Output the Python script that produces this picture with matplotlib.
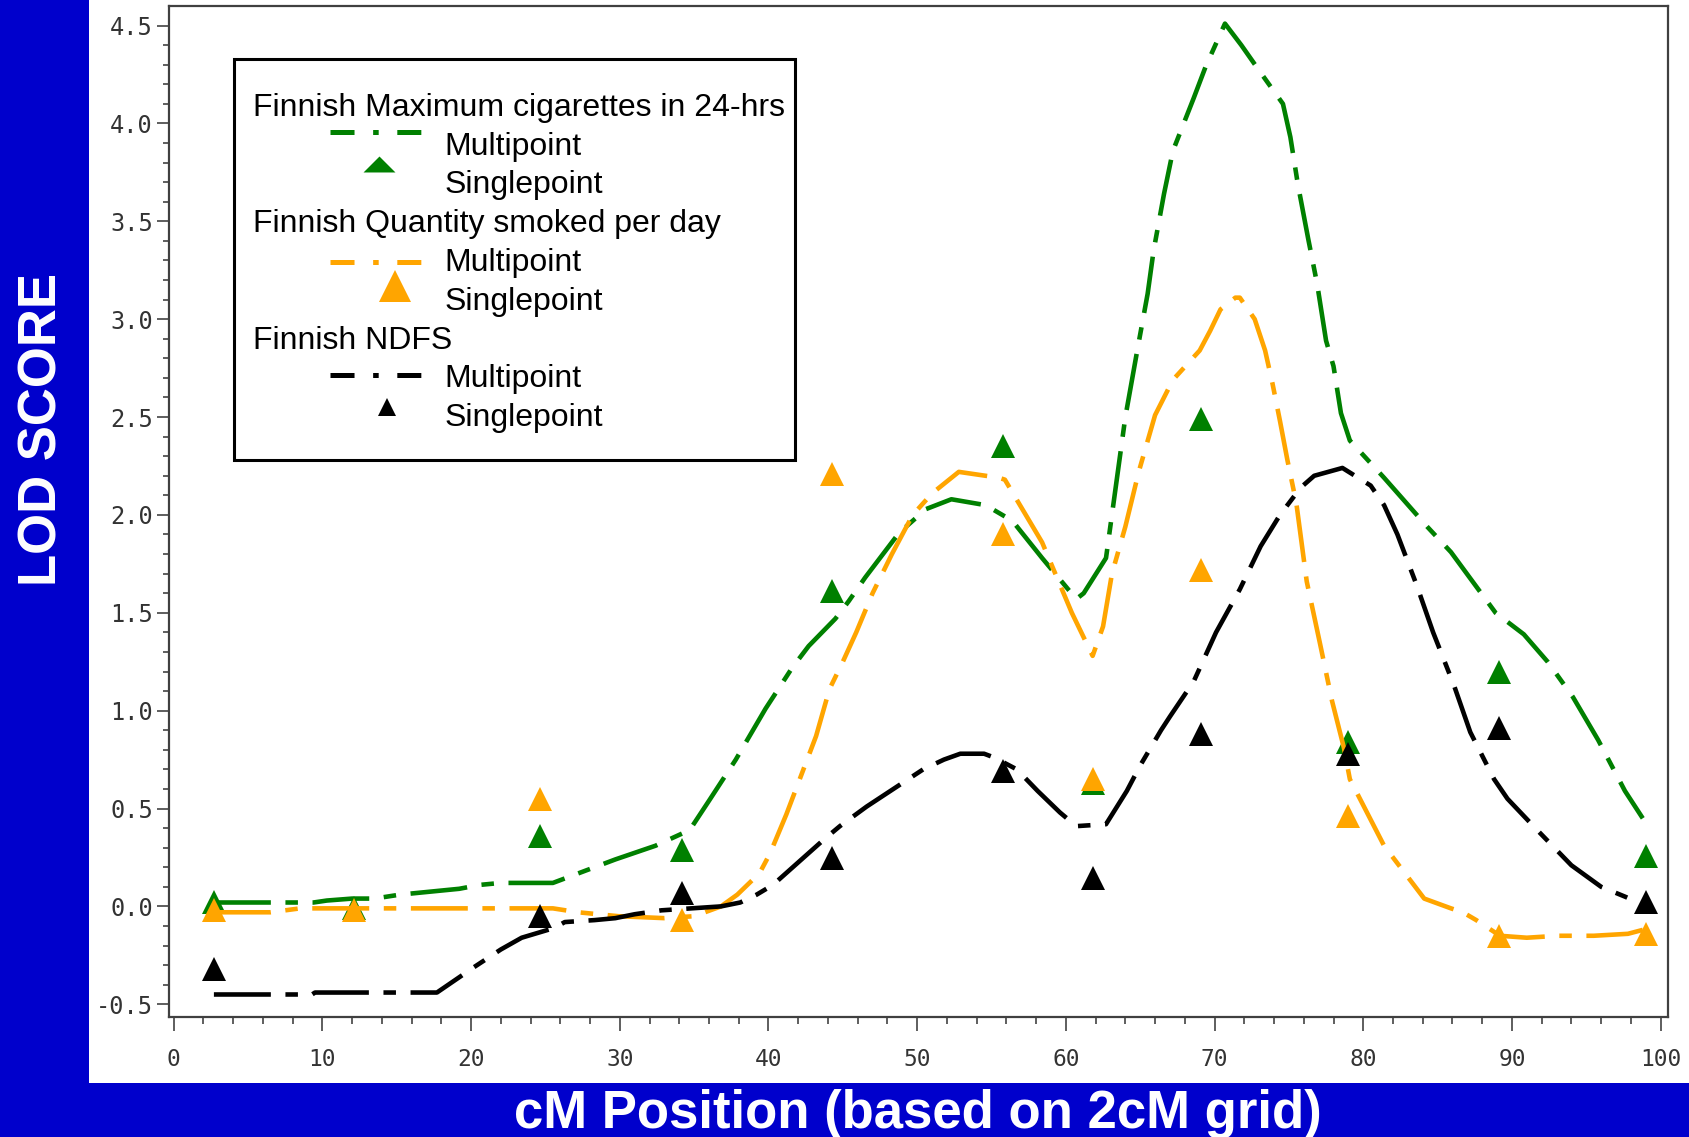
import numpy as np
import matplotlib
matplotlib.use("Agg")
import matplotlib.pyplot as plt
from matplotlib.lines import Line2D
from matplotlib.patches import Rectangle
from matplotlib import font_manager

plt.rcParams['lines.scale_dashes'] = False
plt.rcParams['axes.unicode_minus'] = False

# ---------------- data ----------------
single_x = [2.7, 12.1, 24.6, 34.2, 44.3, 55.8, 61.8, 69.1, 79.0, 89.1, 99.0]
max_cig_single = [0.02, -0.01, 0.36, 0.29, 1.61, 2.35, 0.63, 2.49, 0.84, 1.20, 0.26]
qty_single = [-0.02, -0.02, 0.55, -0.07, 2.21, 1.90, 0.65, 1.72, 0.46, -0.15, -0.14]
ndfs_single = [-0.32, np.nan, -0.05, 0.07, 0.245, 0.69, 0.145, 0.88, 0.78, 0.91, 0.02]

max_cig_multi_x = [2.7, 9.4, 10.3, 12.0, 13.5, 15.2, 19.2, 20.6, 22.0, 25.5, 29.7, 32.4,
                   34.7, 36.0, 37.8, 39.8, 41.6, 42.7, 44.5, 45.4, 46.5, 48.8, 50.6, 52.3,
                   54.6, 56.4, 58.4, 60.7, 61.2, 62.7, 64.0, 64.8, 65.5, 65.9, 66.6, 67.2,
                   68.6, 69.4, 70.7, 71.8, 73.0, 74.6, 75.1, 75.6, 76.3, 76.9, 77.5, 78.0,
                   78.5, 79.1, 81.4, 84.3, 85.9, 88.9, 90.8, 92.4, 94.1, 95.8, 97.6, 98.8]
max_cig_multi_y = [0.02, 0.02, 0.03, 0.04, 0.04, 0.06, 0.09, 0.11, 0.12, 0.12, 0.24, 0.31,
                   0.39, 0.54, 0.75, 1.01, 1.22, 1.33, 1.47, 1.56, 1.68, 1.91, 2.03, 2.08,
                   2.05, 1.97, 1.78, 1.57, 1.60, 1.78, 2.50, 2.84, 3.13, 3.35, 3.64, 3.86,
                   4.13, 4.29, 4.51, 4.40, 4.27, 4.10, 3.93, 3.69, 3.41, 3.18, 2.89, 2.76,
                   2.52, 2.38, 2.19, 1.94, 1.81, 1.50, 1.39, 1.25, 1.07, 0.85, 0.59, 0.45]

qty_multi_x = [2.7, 6.5, 8.5, 25.5, 27.2, 29.9, 33.0, 35.0, 36.8, 37.9, 39.4, 40.1,
               41.2, 42.1, 43.2, 44.1, 45.0, 45.9, 47.0, 48.3, 49.7, 51.0, 52.8, 55.5,
               55.9, 56.6, 58.4, 60.4, 61.8, 62.5, 63.1, 64.0, 64.9, 66.0, 67.2, 69.0,
               69.7, 70.4, 71.4, 71.7, 72.7, 73.4, 73.9, 74.4, 74.9, 75.5, 76.2, 77.1,
               77.9, 78.7, 79.1, 81.4, 82.7, 84.1, 85.9, 86.7, 87.6, 89.2, 91.0, 93.1,
               95.5, 97.8, 98.8]
qty_multi_y = [-0.03, -0.03, -0.01, -0.01, -0.03, -0.05, -0.06, -0.05, 0.0, 0.06, 0.17, 0.27,
               0.47, 0.65, 0.87, 1.11, 1.25, 1.40, 1.60, 1.80, 2.00, 2.11, 2.22, 2.19,
               2.18, 2.09, 1.86, 1.50, 1.28, 1.43, 1.70, 1.94, 2.22, 2.51, 2.69, 2.84,
               2.94, 3.05, 3.11, 3.11, 3.00, 2.84, 2.67, 2.48, 2.28, 2.06, 1.66, 1.34,
               1.05, 0.81, 0.65, 0.31, 0.18, 0.04, -0.01, -0.03, -0.07, -0.15, -0.16, -0.15,
               -0.15, -0.14, -0.12]

ndfs_multi_x = [2.7, 9.3, 9.5, 17.7, 20.2, 22.0, 23.4, 25.6, 26.3, 28.3, 29.7, 31.0,
                32.8, 36.8, 38.1, 39.2, 40.3, 43.7, 44.8, 46.6, 48.4, 50.4, 51.8, 52.9,
                54.5, 55.2, 56.7, 58.1, 59.6, 60.7, 62.7, 64.1, 65.0, 66.4, 67.0, 68.6,
                70.1, 71.7, 73.1, 74.4, 75.8, 76.7, 78.6, 80.5, 81.4, 82.3, 83.6, 84.7,
                86.1, 87.2, 88.8, 89.7, 91.7, 94.0, 96.0, 97.6, 98.8]
ndfs_multi_y = [-0.45, -0.45, -0.44, -0.44, -0.31, -0.22, -0.16, -0.11, -0.08, -0.07, -0.06, -0.04,
                -0.02, 0.0, 0.02, 0.06, 0.11, 0.34, 0.41, 0.51, 0.60, 0.70, 0.75, 0.78,
                0.78, 0.76, 0.70, 0.59, 0.48, 0.41, 0.42, 0.59, 0.72, 0.90, 0.97, 1.15,
                1.40, 1.62, 1.84, 2.00, 2.14, 2.20, 2.24, 2.15, 2.05, 1.90, 1.64, 1.40,
                1.13, 0.89, 0.65, 0.55, 0.39, 0.21, 0.10, 0.05, 0.01]

x_ticks = [0, 10, 20, 30, 40, 50, 60, 70, 80, 90, 100]
x_tick_labels = ['0', '10', '20', '30', '40', '50', '60', '70', '80', '90', '100']
y_ticks = [-0.5, 0.0, 0.5, 1.0, 1.5, 2.0, 2.5, 3.0, 3.5, 4.0, 4.5]
y_tick_labels = ['-0.5', '0.0', '0.5', '1.0', '1.5', '2.0', '2.5', '3.0', '3.5', '4.0', '4.5']

legend_groups = ['Finnish Maximum cigarettes in 24-hrs',
                 'Finnish Quantity smoked per day',
                 'Finnish NDFS']
legend_items = ['Multipoint', 'Singlepoint']
x_title = 'cM Position (based on 2cM grid)'
y_title = 'LOD SCORE'

# ---------------- style ----------------
BLUE = '#0000CC'
GREEN = '#008000'
ORANGE = '#FFA500'
BLACK = '#000000'

names = {f.name for f in font_manager.fontManager.ttflist}
HAS_NARROW = 'Liberation Sans Narrow' in names
SANS = 'Liberation Sans'

W, H = 1690, 1137
fig = plt.figure(figsize=(W / 100, H / 100), dpi=100)
fig.patch.set_facecolor('white')


def fx(px):
    return px / W


def fy(py):
    return 1 - py / H


# blue bands
fig.add_artist(Rectangle((0, 0), fx(89), 1, transform=fig.transFigure,
                         facecolor=BLUE, edgecolor='none', zorder=0))
fig.add_artist(Rectangle((0, 0), 1, (H - 1083) / H, transform=fig.transFigure,
                         facecolor=BLUE, edgecolor='none', zorder=0))

ax = fig.add_axes([fx(169), fy(1017), (1667.6 - 169) / W, (1017 - 6) / H])
ax.set_xlim(-0.32, 100.47)
ax.set_ylim(-0.565, 4.60)

line_dash = (41, 10.5, 9, 10.5)
lw = 3.3
ms = 17.5

ax.plot(max_cig_multi_x, max_cig_multi_y, color=GREEN, lw=lw, dashes=line_dash,
        dash_capstyle='butt', zorder=3)
ax.plot(single_x, max_cig_single, ls='none', marker='^', ms=ms, color=GREEN,
        markeredgewidth=0, zorder=3)
ax.plot(qty_multi_x, qty_multi_y, color=ORANGE, lw=lw, dashes=line_dash,
        dash_capstyle='butt', zorder=4)
ax.plot(single_x, qty_single, ls='none', marker='^', ms=ms, color=ORANGE,
        markeredgewidth=0, zorder=4)
ax.plot(ndfs_multi_x, ndfs_multi_y, color=BLACK, lw=lw, dashes=line_dash,
        dash_capstyle='butt', zorder=5)
ax.plot(single_x, ndfs_single, ls='none', marker='^', ms=ms, color=BLACK,
        markeredgewidth=0, zorder=5)

for s in ax.spines.values():
    s.set_color('#404040')
    s.set_linewidth(1.6)

ax.set_xticks(x_ticks)
ax.set_xticklabels(x_tick_labels)
ax.set_xticks(np.arange(0, 101, 2), minor=True)
ax.set_yticks(y_ticks)
ax.set_yticklabels(y_tick_labels)
ax.set_yticks(np.arange(-0.5, 4.51, 0.1), minor=True)

ax.tick_params(axis='x', which='major', direction='out', length=10, width=1.1,
               color='#333333', pad=12)
ax.tick_params(axis='x', which='minor', direction='out', length=5, width=1.1,
               color='#333333')
ax.tick_params(axis='y', which='major', direction='out', length=8.6, width=1.1,
               color='#333333', pad=3)
ax.tick_params(axis='y', which='minor', direction='out', length=4.3, width=1.1,
               color='#333333')

for t in ax.get_yticklabels():
    t.set_fontfamily('DejaVu Sans Mono')
    t.set_fontsize(17)
    t.set_color('#333333')
for t in ax.get_xticklabels():
    if HAS_NARROW:
        t.set_fontfamily('Liberation Sans Narrow')
        t.set_fontsize(18)
    else:
        t.set_fontfamily('DejaVu Sans Mono')
        t.set_fontsize(16.5)
    t.set_color('#333333')

# axis titles in blue bands
fig.text(fx(57), fy(429), y_title, rotation=90, rotation_mode='anchor',
         ha='center', va='baseline', color='white', fontweight='bold',
         fontsize=38, family=SANS)
if HAS_NARROW:
    fig.text(fx(918), fy(1128), x_title, ha='center', va='baseline', color='white',
             fontweight='bold', fontsize=42, family='Liberation Sans Narrow')
else:
    fig.text(fx(918), fy(1128), x_title, ha='center', va='baseline', color='white',
             fontweight='bold', fontsize=38, family=SANS)

# legend box
fig.add_artist(Rectangle((fx(234), fy(460)), (795 - 234) / W, (460 - 59) / H,
                         transform=fig.transFigure, fill=False, edgecolor='black',
                         linewidth=2.2, zorder=6))

leg_fs = 23.0
base0 = 115.8
step = 38.8
colors = [GREEN, ORANGE, BLACK]
line_y = [131.6, 261.5, 374.6]
mark_pos = [(378.7, 164.0), (394.8, 286.0), (386.7, 406.6)]
flat_tri = [(-1, -0.5), (1, -0.5), (0, 0.5), (-1, -0.5)]
mark_style = [(flat_tri, 23), ('^', 23), ('^', 13.5)]
leg_dash = (17.3, 13.4, 4, 13.4)

for i, grp in enumerate(legend_groups):
    b = base0 + i * 3 * step
    fig.text(fx(253), fy(b), grp, ha='left', va='baseline', fontsize=leg_fs,
             family=SANS, color='black', zorder=7)
    fig.text(fx(444.5), fy(b + step), legend_items[0], ha='left', va='baseline',
             fontsize=leg_fs, family=SANS, color='black', zorder=7)
    fig.text(fx(444.5), fy(b + 2 * step), legend_items[1], ha='left', va='baseline',
             fontsize=leg_fs, family=SANS, color='black', zorder=7)
    fig.add_artist(Line2D([fx(330), fx(421)], [fy(line_y[i])] * 2,
                          transform=fig.transFigure, color=colors[i], lw=3.6,
                          dashes=leg_dash, dash_capstyle='butt', zorder=7))
    mk, msz = mark_style[i]
    fig.add_artist(Line2D([fx(mark_pos[i][0])], [fy(mark_pos[i][1])],
                          transform=fig.transFigure, ls='none', marker=mk, ms=msz,
                          color=colors[i], markeredgewidth=0, zorder=7))

fig.savefig('out.png', dpi=100, facecolor='white')
